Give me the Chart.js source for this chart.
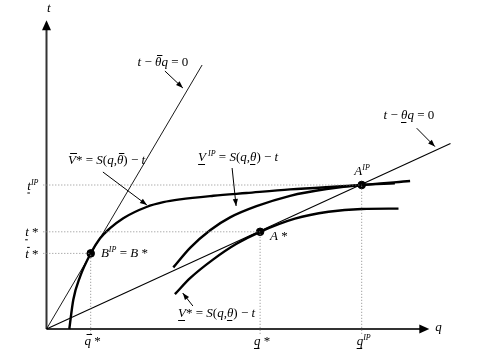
<!DOCTYPE html>
<html>
<head>
<meta charset="utf-8">
<script src="https://cdn.jsdelivr.net/npm/chart.js@4.4.1/dist/chart.umd.min.js"></script>
<style>
  html, body { margin: 0; padding: 0; background: #fff; }
  #wrap { width: 489px; height: 355px; }
</style>
</head>
<body>
<div id="wrap"><canvas id="contractChart"></canvas></div>
<script>
// Curves, as [q, t]
const vBarStar = [[0.57,0],[0.67,0.73],[0.84,1.31],[1.105,1.89],[1.34,2.27],[1.59,2.52],[1.92,2.77],[2.5,3.05],[2.92,3.17],[3.34,3.24],[4.17,3.33],[5.0,3.4],[6.09,3.49],[7.88,3.6],[9.09,3.7]];
const vUnderIP = [[3.17,1.54],[3.59,2.03],[4.09,2.47],[4.59,2.79],[5.25,3.07],[6.09,3.33],[7.0,3.5],[7.88,3.6],[8.71,3.64]];
const vUnderStar = [[3.21,0.87],[3.59,1.27],[4.17,1.74],[4.75,2.13],[5.34,2.43],[6.21,2.76],[7.05,2.93],[7.88,3.0],[8.8,3.01]];

// zero-profit lines t - theta q = 0
const steepLine = [[0,0],[3.89,6.6]];
const shallowLine = [[0,0],[10.1,4.64]];

// contract points B, A*, A^IP
const pointNames = ['B', 'A*', 'AIP'];
const pointQ = [1.105, 5.34, 7.88];
const pointT = [1.89, 2.43, 3.6];

// axis tick labels (same order as the points)
const qTickLabels = [[['q','io'],[' *','']], [['q','iu'],[' *','']], [['q','iu'],['IP','s']]];
const tTickLabels = [[['t','io'],[' *','']], [['t','iu'],[' *','']], [['t','iu'],['IP','s']]];

// axis extents
const qAxisEnd = 9.57;
const tAxisEnd = 7.72;

// text labels: [segments, q, t(baseline), align]
const textLabels = [
  [[['t','i'],[' \u2212 ',''],['\u03b8','io'],['q','i'],[' = 0','']], 2.91, 6.575, 'center'],
  [[['t','i'],[' \u2212 ',''],['\u03b8','iu'],['q','i'],[' = 0','']], 9.06, 5.25, 'center'],
  [[['V','io'],['* = ',''],['S','i'],['(',''],['q','i'],[',',''],['\u03b8','io'],[')',''],[' \u2212 ',''],['t','i']], 0.54, 4.125, 'left'],
  [[['V','iu'],[' IP','s'],[' = ',''],['S','i'],['(',''],['q','i'],[',',''],['\u03b8','iu'],[')',''],[' \u2212 ',''],['t','i']], 3.79, 4.2, 'left'],
  [[['V','iu'],['* = ',''],['S','i'],['(',''],['q','i'],[',',''],['\u03b8','iu'],[')',''],[' \u2212 ',''],['t','i']], 3.29, 0.3, 'left'],
  [[['A','i'],['IP','s']], 7.89, 3.85, 'center'],
  [[['B','i'],['IP','s'],[' = ',''],['B','i'],[' *','']], 1.36, 1.8, 'left'],
  [[['A','i'],[' *','']], 5.59, 2.225, 'left'],
  [[['t','i']], 0.06, 7.925, 'center'],
  [[['q','i']], 9.72, -0.05, 'left']
];

// label arrows: [fromQ, fromT, toQ, toT]
const labelArrows = [
  [2.96, 6.45, 3.41, 6.025],
  [9.255, 5.02, 9.71, 4.56],
  [1.41, 3.925, 2.51, 3.1],
  [4.64, 4.025, 4.74, 3.075],
  [3.66, 0.575, 3.405, 0.9]
];

const serif = '"Liberation Serif", "DejaVu Serif", serif';
const toXY = arr => arr.map(p => ({ x: p[0], y: p[1] }));

function mathText(ctx, segs, x, y, align) {
  let w = 0;
  const parts = segs.map(([txt, st]) => {
    const sup = st.includes('s');
    const f = (st.includes('i') || sup ? 'italic ' : '') + (sup ? 8 : 13) + 'px ' + serif;
    ctx.font = f;
    const pw = ctx.measureText(txt).width;
    w += pw;
    return { txt, st, f, pw, sup };
  });
  let cx = align === 'center' ? x - w / 2 : align === 'right' ? x - w : x;
  ctx.textAlign = 'left';
  ctx.textBaseline = 'alphabetic';
  ctx.fillStyle = '#000';
  ctx.strokeStyle = '#000';
  ctx.lineWidth = 1;
  parts.forEach(p => {
    ctx.font = p.f;
    ctx.fillText(p.txt, cx, p.sup ? y - 5 : y);
    if (p.st.includes('o')) {
      ctx.beginPath();
      ctx.moveTo(cx + 2, y - 10.5);
      ctx.lineTo(cx + p.pw + 1, y - 10.5);
      ctx.stroke();
    }
    if (p.st.includes('u')) {
      ctx.beginPath();
      ctx.moveTo(cx, y + 3.5);
      ctx.lineTo(cx + p.pw - 1, y + 3.5);
      ctx.stroke();
    }
    cx += p.pw;
  });
}

function arrowHead(ctx, x0, y0, x1, y1, len, half) {
  const a = Math.atan2(y1 - y0, x1 - x0);
  ctx.beginPath();
  ctx.moveTo(x1, y1);
  ctx.lineTo(x1 - len * Math.cos(a) + half * Math.sin(a), y1 - len * Math.sin(a) - half * Math.cos(a));
  ctx.lineTo(x1 - len * Math.cos(a) - half * Math.sin(a), y1 - len * Math.sin(a) + half * Math.cos(a));
  ctx.closePath();
  ctx.fill();
}

// dotted guides from the axes to each point
const guides = [];
pointQ.forEach((q, i) => {
  guides.push({ data: [{ x: -0.08, y: pointT[i] }, { x: q, y: pointT[i] }] });
  guides.push({ data: [{ x: q, y: -0.12 }, { x: q, y: pointT[i] }] });
});

const datasets = [
  ...guides.map(g => ({ data: g.data, borderColor: '#8a8a8a', borderWidth: 1, borderDash: [1, 2] })),
  { data: toXY(steepLine), borderColor: '#000', borderWidth: 0.9 },
  { data: toXY(shallowLine), borderColor: '#000', borderWidth: 1.1 },
  { data: toXY(vBarStar), borderColor: '#000', borderWidth: 2.4, cubicInterpolationMode: 'monotone' },
  { data: toXY(vUnderIP), borderColor: '#000', borderWidth: 2.4, cubicInterpolationMode: 'monotone' },
  { data: toXY(vUnderStar), borderColor: '#000', borderWidth: 2.4, cubicInterpolationMode: 'monotone' },
  { data: [{ x: 0, y: 0 }, { x: qAxisEnd - 0.2, y: 0 }], borderColor: '#333', borderWidth: 2 },
  { data: [{ x: 0, y: 0 }, { x: 0, y: tAxisEnd - 0.2 }], borderColor: '#333', borderWidth: 2 },
  { data: pointQ.map((q, i) => ({ x: q, y: pointT[i] })), showLine: false, pointRadius: 3.8, backgroundColor: '#000', borderColor: '#000' }
].map(d => Object.assign({ showLine: true, pointRadius: 0, clip: false, fill: false }, d));

const decorations = {
  id: 'decorations',
  afterDatasetsDraw(chart) {
    const ctx = chart.ctx;
    const xs = chart.scales.x, ys = chart.scales.y;
    const px = v => xs.getPixelForValue(v), py = v => ys.getPixelForValue(v);
    ctx.save();
    ctx.fillStyle = '#000';
    ctx.strokeStyle = '#000';
    // axis arrows
    arrowHead(ctx, px(0), py(0), px(qAxisEnd), py(0), 10, 4.5);
    arrowHead(ctx, px(0), py(0), px(0), py(tAxisEnd), 10, 4.5);
    // label arrows
    labelArrows.forEach(([q0, t0, q1, t1]) => {
      ctx.lineWidth = 1;
      ctx.beginPath();
      ctx.moveTo(px(q0), py(t0));
      ctx.lineTo(px(q1), py(t1));
      ctx.stroke();
      arrowHead(ctx, px(q0), py(t0), px(q1), py(t1), 7, 2.6);
    });
    // tick labels
    pointQ.forEach((q, i) => mathText(ctx, qTickLabels[i], px(q) + 2, py(0) + 16, 'center'));
    pointT.forEach((t, i) => mathText(ctx, tTickLabels[i], px(0) - 8, py(t) + 4.5, 'right'));
    // text labels
    textLabels.forEach(([segs, q, t, align]) => mathText(ctx, segs, px(q), py(t), align));
    ctx.restore();
  }
};

new Chart(document.getElementById('contractChart'), {
  type: 'scatter',
  data: { datasets },
  options: {
    responsive: true,
    maintainAspectRatio: false,
    animation: false,
    events: [],
    layout: { padding: { left: 46.5, right: 22.5, top: 17, bottom: 26 } },
    plugins: { legend: { display: false }, tooltip: { enabled: false } },
    scales: {
      x: { type: 'linear', min: 0, max: 10.5, display: false },
      y: { type: 'linear', min: 0, max: 7.8, display: false }
    }
  },
  plugins: [decorations]
});
</script>
</body>
</html>
